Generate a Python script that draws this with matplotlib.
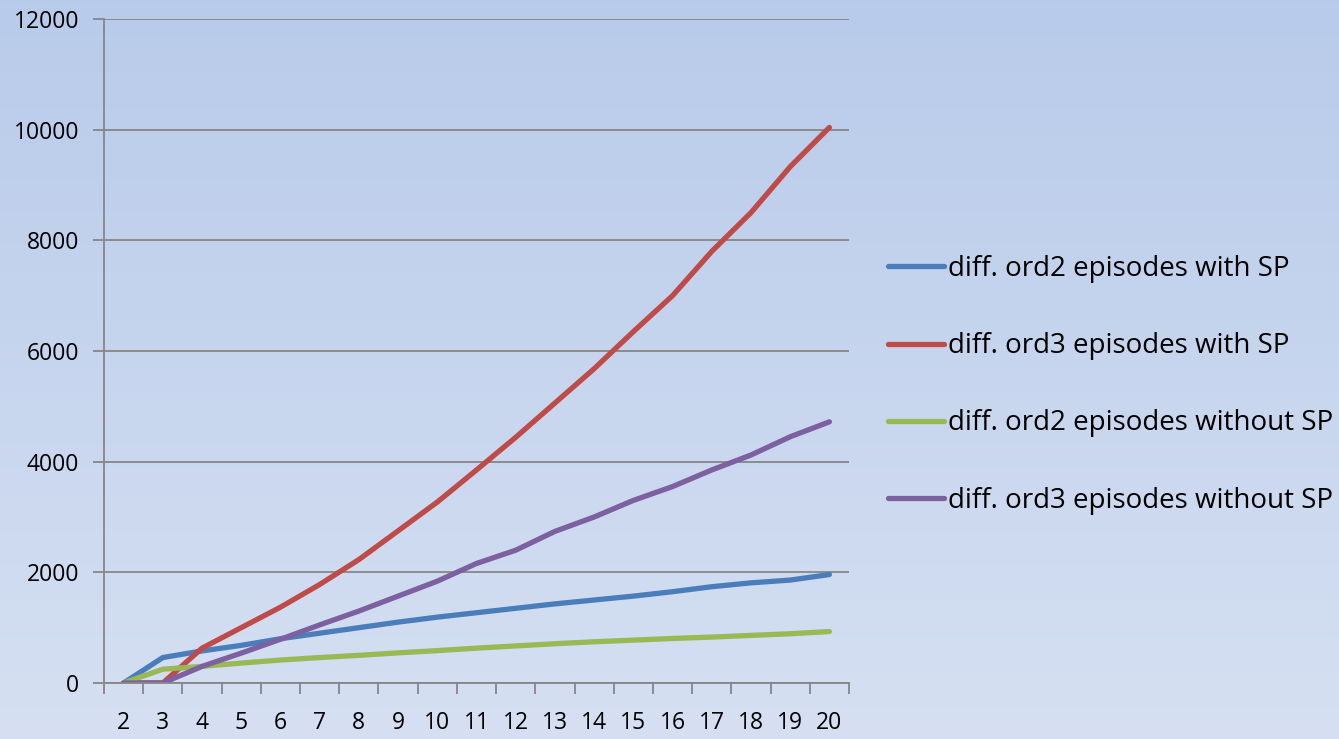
import numpy as np
import matplotlib
matplotlib.use("Agg")
import matplotlib.pyplot as plt

# x categories (order of difference)
orders = list(range(2, 21))

ord2_with_sp = [0, 460, 580, 680, 800, 900, 1000, 1100, 1190, 1270,
                1350, 1430, 1500, 1570, 1650, 1740, 1810, 1860, 1960]
ord3_with_sp = [0, 0, 630, 1000, 1370, 1780, 2230, 2750, 3270, 3850,
                4440, 5060, 5680, 6350, 7000, 7800, 8500, 9330, 10040]
ord2_without_sp = [0, 250, 300, 360, 415, 460, 500, 545, 585, 630,
                   670, 710, 745, 775, 805, 830, 860, 890, 930]
ord3_without_sp = [0, 0, 300, 540, 790, 1050, 1300, 1570, 1840, 2160,
                   2400, 2740, 3000, 3300, 3550, 3850, 4120, 4450, 4720]

labels = ["diff. ord2 episodes with SP", "diff. ord3 episodes with SP",
          "diff. ord2 episodes without SP", "diff. ord3 episodes without SP"]
colors = ["#4a7ebb", "#be4b48", "#98b954", "#7d60a0"]

plt.rcParams['font.family'] = ['Open Sans', 'DejaVu Sans']

fig = plt.figure(figsize=(13.39, 7.39), dpi=100)

# gradient background
bg = fig.add_axes([0, 0, 1, 1], zorder=0)
grad = np.linspace(0, 1, 256).reshape(-1, 1)
top = np.array([0.722, 0.796, 0.918])
bottom = np.array([0.839, 0.878, 0.949])
img = top[None, None, :] * (1 - grad[:, :, None]) + bottom[None, None, :] * grad[:, :, None]
bg.imshow(img, aspect='auto', extent=[0, 1, 0, 1])
bg.axis('off')

ax = fig.add_axes([104 / 1339, 1 - 683 / 739, 745 / 1339, 664 / 739], zorder=1)
ax.set_facecolor('none')

x = np.arange(len(orders))
series = [ord2_with_sp, ord3_with_sp, ord2_without_sp, ord3_without_sp]
for vals, lab, col in zip(series, labels, colors):
    ax.plot(x, vals, color=col, lw=3.8, label=lab, solid_capstyle='round',
            solid_joinstyle='round')

ax.set_xlim(-0.5, len(orders) - 0.5)
ax.set_ylim(0, 12000)
ax.set_yticks(range(0, 12001, 2000))
ax.set_xticks(x)
ax.set_xticklabels([str(o) for o in orders])
ax.set_xticks(np.arange(-0.5, len(orders)), minor=True)

ax.grid(axis='y', color='#868686', lw=1.3)
ax.set_axisbelow(True)
for s in ['top', 'right']:
    ax.spines[s].set_visible(False)
for s in ['left', 'bottom']:
    ax.spines[s].set_color('#868686')
    ax.spines[s].set_linewidth(1.3)

ax.tick_params(axis='y', length=8, color='#868686', width=1.3, labelsize=16.5, pad=10)
ax.tick_params(axis='x', which='major', length=0, labelsize=16.5, pad=20)
ax.tick_params(axis='x', which='minor', length=8, color='#868686', width=1.3)

leg = ax.legend(loc='center left', bbox_to_anchor=(1.0523, 0.449), frameon=False,
                fontsize=20, handlelength=2.0, handletextpad=0.15,
                labelspacing=1.77, borderaxespad=0, borderpad=0)
for h in leg.get_lines():
    h.set_linewidth(3.8)

fig.savefig("out.png", dpi=100)
